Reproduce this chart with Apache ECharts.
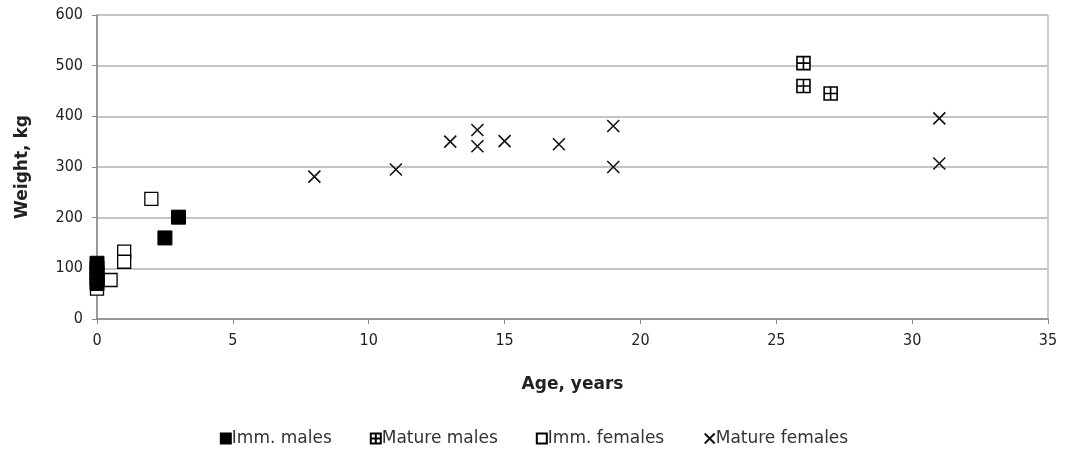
<!DOCTYPE html>
<html><head><meta charset="utf-8">
<script src="https://cdn.jsdelivr.net/npm/echarts@6/dist/echarts.min.js"></script>
<style>html,body{margin:0;padding:0;background:#fff}#c{width:1068px;height:450px}</style>
</head><body><div id="c"></div>
<script>
const immMalesAge = [0, 0, 0, 0, 0, 2.5, 3];
const immMalesWt = [110, 100, 90, 80, 70, 160, 201];
const matureMalesAge = [26, 26, 27];
const matureMalesWt = [505, 460, 445];
const immFemalesAge = [0, 0.5, 1, 1, 2];
const immFemalesWt = [60, 77, 133, 113, 237];
const matureFemalesAge = [8, 11, 13, 14, 14, 15, 17, 19, 19, 31, 31];
const matureFemalesWt = [281, 295, 350, 373, 341, 351, 345, 381, 300, 396, 307];
const xTicks = [0, 5, 10, 15, 20, 25, 30, 35];
const yTicks = [0, 100, 200, 300, 400, 500, 600];
const seriesNames = ['Imm. males', 'Mature males', 'Imm. females', 'Mature females'];

const zip = (a, b) => a.map((v, i) => [v, b[i]]);
const font = "'DejaVu Sans Condensed','DejaVu Sans',sans-serif";
const plusSq = 'path://M0,0H10V10H0Z M5,0V10 M0,5H10';
const cross = 'path://M0,0L10,10 M10,0L0,10';

const chart = echarts.init(document.getElementById('c'), null, {renderer: 'canvas'});
chart.setOption({
  animation: false,
  textStyle: {fontFamily: font},
  grid: {left: 97, right: 20, top: 15, bottom: 131, show: true, borderColor: '#999', borderWidth: 1},
  xAxis: {
    type: 'value', min: xTicks[0], max: xTicks[xTicks.length - 1], interval: 5,
    name: 'Age, years', nameLocation: 'middle', nameGap: 57,
    nameTextStyle: {fontWeight: 'bold', fontSize: 17, color: '#222', fontFamily: "'DejaVu Sans',sans-serif"},
    axisLine: {lineStyle: {color: '#888', width: 1.5}},
    axisTick: {show: true, length: 5, lineStyle: {color: '#888'}},
    axisLabel: {fontSize: 16, color: '#222', margin: 14},
    splitLine: {show: false}
  },
  yAxis: {
    type: 'value', min: yTicks[0], max: yTicks[yTicks.length - 1], interval: 100,
    name: 'Weight, kg', nameLocation: 'middle', nameGap: 66, nameRotate: 90,
    nameTextStyle: {fontWeight: 'bold', fontSize: 17, color: '#222', fontFamily: "'DejaVu Sans',sans-serif"},
    axisLine: {show: true, lineStyle: {color: '#888', width: 1.5}},
    axisTick: {show: true, length: 5, lineStyle: {color: '#888'}},
    axisLabel: {fontSize: 16, color: '#222', margin: 14},
    splitLine: {show: true, lineStyle: {color: '#c4c4c4', width: 2}}
  },
  legend: {
    bottom: -2, left: 'center', itemGap: 38, itemWidth: 10, itemHeight: 10,
    textStyle: {fontSize: 17, color: '#333', padding: [0, 0, 0, -4], fontFamily: "'DejaVu Sans',sans-serif"},
    data: [
      {name: seriesNames[0], icon: 'rect'},
      {name: seriesNames[1], icon: plusSq},
      {name: seriesNames[2], icon: 'rect'},
      {name: seriesNames[3], icon: cross}
    ]
  },
  series: [
    {name: seriesNames[0], type: 'scatter', data: zip(immMalesAge, immMalesWt), symbol: 'rect', symbolSize: 14,
     itemStyle: {color: '#000', borderColor: '#000', borderWidth: 1, opacity: 1}},
    {name: seriesNames[1], type: 'scatter', data: zip(matureMalesAge, matureMalesWt), symbol: plusSq, symbolSize: 13,
     itemStyle: {color: '#fff', borderColor: '#000', borderWidth: 1.6, opacity: 1}},
    {name: seriesNames[2], type: 'scatter', data: zip(immFemalesAge, immFemalesWt), symbol: 'rect', symbolSize: 13, z: 1,
     itemStyle: {color: '#fff', borderColor: '#000', borderWidth: 1.3, opacity: 1}},
    {name: seriesNames[3], type: 'scatter', data: zip(matureFemalesAge, matureFemalesWt), symbol: cross, symbolSize: 12,
     itemStyle: {color: 'none', borderColor: '#111', borderWidth: 1.6, opacity: 1}}
  ]
});
</script></body></html>
